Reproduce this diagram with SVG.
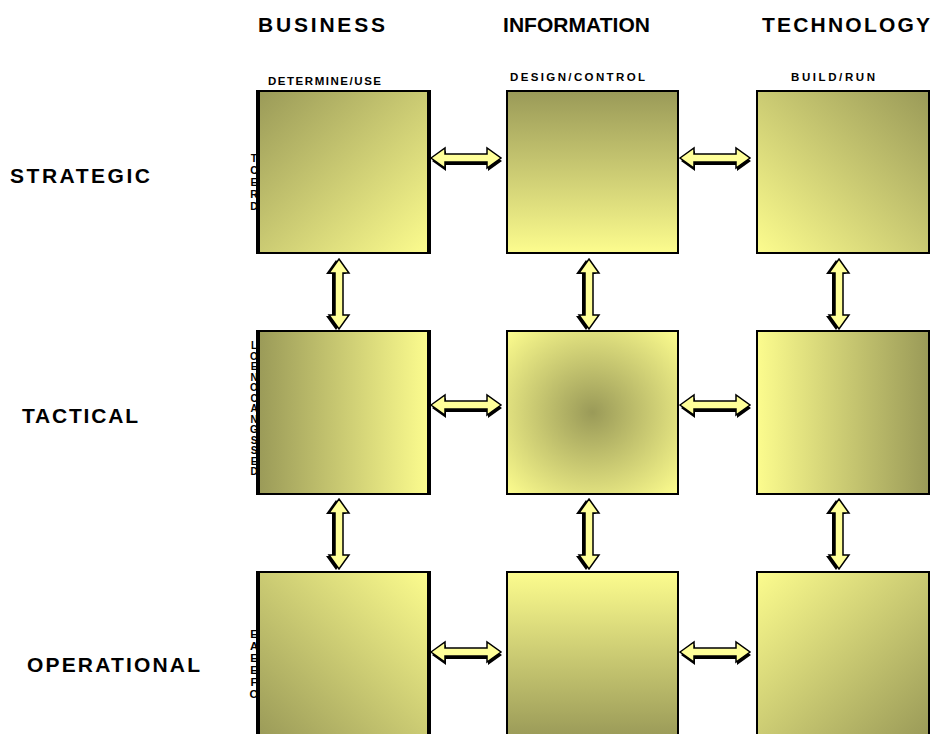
<svg xmlns="http://www.w3.org/2000/svg" width="935" height="734" viewBox="0 0 935 734">
<defs>
<style>
.hdr{font-family:"Liberation Sans",Arial,sans-serif;font-weight:bold;font-size:21px;fill:#000}
.sub{font-family:"Liberation Sans",Arial,sans-serif;font-weight:bold;font-size:11.5px;fill:#000}
.vl{font-family:"Liberation Sans",Arial,sans-serif;font-weight:bold;fill:#000;writing-mode:vertical-rl;text-orientation:upright}
.box{stroke:#000;stroke-width:2}
.edge{stroke:#000;stroke-width:4}
.arr{fill:#ffff99;stroke:#000;stroke-width:1.5}
.sh{fill:#000}
</style>
<linearGradient id="gTL" x1="0" y1="0" x2="1" y2="1"><stop offset="0" stop-color="#9a9a58"/><stop offset="1" stop-color="#fcfc8e"/></linearGradient>
<linearGradient id="gV" x1="0" y1="0" x2="0" y2="1"><stop offset="0" stop-color="#9a9a58"/><stop offset="1" stop-color="#fcfc8e"/></linearGradient>
<linearGradient id="gTR" x1="1" y1="0" x2="0" y2="1"><stop offset="0" stop-color="#9a9a58"/><stop offset="1" stop-color="#fcfc8e"/></linearGradient>
<linearGradient id="gH" x1="0" y1="0" x2="1" y2="0"><stop offset="0" stop-color="#9a9a58"/><stop offset="1" stop-color="#fcfc8e"/></linearGradient>
<linearGradient id="gHr" x1="1" y1="0" x2="0" y2="0"><stop offset="0" stop-color="#9a9a58"/><stop offset="1" stop-color="#fcfc8e"/></linearGradient>
<radialGradient id="gR" cx="0.5" cy="0.5" r="0.7"><stop offset="0" stop-color="#9a9a58"/><stop offset="1" stop-color="#fcfc8e"/></radialGradient>
<linearGradient id="gBL" x1="0" y1="1" x2="1" y2="0"><stop offset="0" stop-color="#9a9a58"/><stop offset="1" stop-color="#fcfc8e"/></linearGradient>
<linearGradient id="gVr" x1="0" y1="1" x2="0" y2="0"><stop offset="0" stop-color="#9a9a58"/><stop offset="1" stop-color="#fcfc8e"/></linearGradient>
<linearGradient id="gBR" x1="1" y1="1" x2="0" y2="0"><stop offset="0" stop-color="#9a9a58"/><stop offset="1" stop-color="#fcfc8e"/></linearGradient>
<path id="ha" d="M0,0 L14,-10 L14,-4 L56,-4 L56,-10 L70,0 L56,10 L56,4 L14,4 L14,10 Z"/>
<g id="harrow"><use href="#ha" class="sh" transform="translate(1,3)"/><use href="#ha" class="arr"/></g>
<g id="varrow"><use href="#ha" class="sh" transform="translate(-3,1) rotate(90)"/><use href="#ha" class="arr" transform="rotate(90)"/></g>
</defs>
<rect width="935" height="734" fill="#fff"/>

<g id="headers">
<text class="hdr" x="258" y="32" textLength="127" lengthAdjust="spacing">BUSINESS</text>
<text class="hdr" x="503" y="32" textLength="147" lengthAdjust="spacing">INFORMATION</text>
<text class="hdr" x="762" y="32" textLength="168" lengthAdjust="spacing">TECHNOLOGY</text>
<text class="hdr" x="10" y="183" textLength="140" lengthAdjust="spacing">STRATEGIC</text>
<text class="hdr" x="22" y="423" textLength="116" lengthAdjust="spacing">TACTICAL</text>
<text class="hdr" x="27" y="672" textLength="173" lengthAdjust="spacing">OPERATIONAL</text>
<text class="sub" x="268" y="85" textLength="113" lengthAdjust="spacing">DETERMINE/USE</text>
<text class="sub" x="510" y="81" textLength="135" lengthAdjust="spacing">DESIGN/CONTROL</text>
<text class="sub" x="791" y="81" textLength="84" lengthAdjust="spacing">BUILD/RUN</text>
</g>

<g id="vletters">
<text class="vl" x="254" y="152" style="font-size:10.5px">TCERD</text>
<text class="vl" x="254" y="340" style="font-size:10px;letter-spacing:-0.5px">LOENOCANGSSED</text>
<text class="vl" x="254" y="628" style="font-size:11.3px">EAEEFO</text>
</g>

<g id="n11"><rect class="box" x="258" y="91" width="171" height="162" fill="url(#gTL)"/><line class="edge" x1="258" y1="90" x2="258" y2="254"/><line class="edge" x1="429" y1="90" x2="429" y2="254"/></g>
<g id="n12"><rect class="box" x="507" y="91" width="171" height="162" fill="url(#gV)"/></g>
<g id="n13"><rect class="box" x="757" y="91" width="172" height="162" fill="url(#gTR)"/></g>
<g id="n21"><rect class="box" x="258" y="331" width="171" height="163" fill="url(#gH)"/><line class="edge" x1="258" y1="330" x2="258" y2="495"/><line class="edge" x1="429" y1="330" x2="429" y2="495"/></g>
<g id="n22"><rect class="box" x="507" y="331" width="171" height="163" fill="url(#gR)"/></g>
<g id="n23"><rect class="box" x="757" y="331" width="172" height="163" fill="url(#gHr)"/></g>
<g id="n31"><rect class="box" x="258" y="572" width="171" height="166" fill="url(#gBL)"/><line class="edge" x1="258" y1="571" x2="258" y2="738"/><line class="edge" x1="429" y1="571" x2="429" y2="738"/></g>
<g id="n32"><rect class="box" x="507" y="572" width="171" height="166" fill="url(#gVr)"/></g>
<g id="n33"><rect class="box" x="757" y="572" width="172" height="166" fill="url(#gBR)"/></g>

<g id="connectors">
<use href="#harrow" x="431" y="158"/>
<use href="#harrow" x="680" y="158"/>
<use href="#harrow" x="431" y="405"/>
<use href="#harrow" x="680" y="405"/>
<use href="#harrow" x="431" y="652"/>
<use href="#harrow" x="680" y="652"/>
<use href="#varrow" x="339" y="259"/>
<use href="#varrow" x="589" y="259"/>
<use href="#varrow" x="839" y="259"/>
<use href="#varrow" x="339" y="499"/>
<use href="#varrow" x="589" y="499"/>
<use href="#varrow" x="839" y="499"/>
</g>
</svg>
